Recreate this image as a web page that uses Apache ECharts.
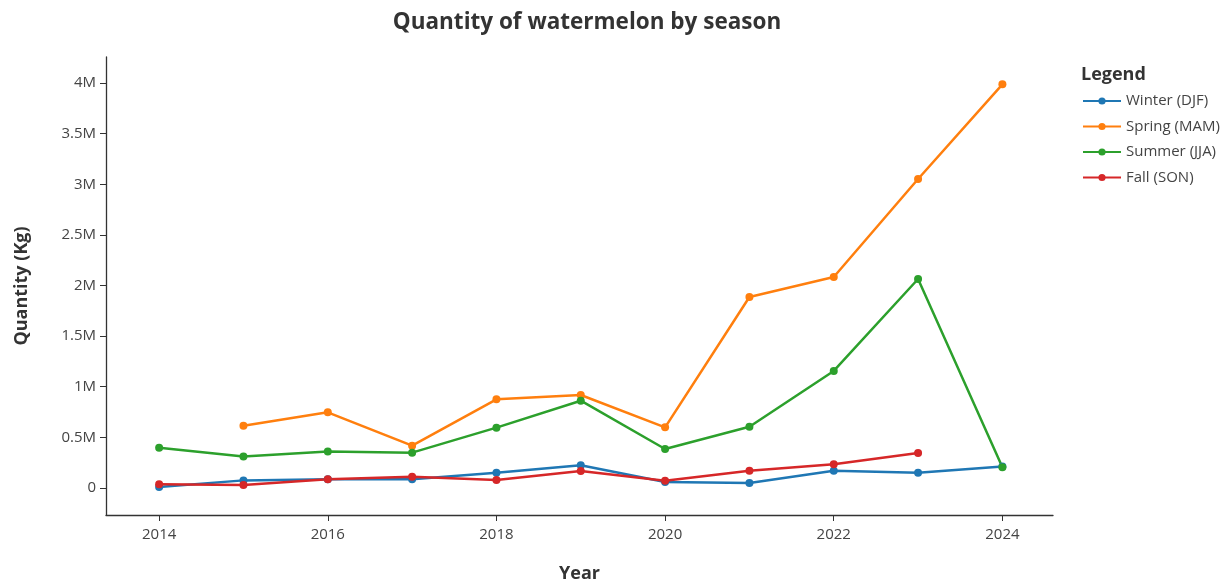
<!DOCTYPE html>
<html>
<head>
<meta charset="utf-8">
<title>Quantity of watermelon by season</title>
<script src="https://cdn.jsdelivr.net/npm/echarts@6/dist/echarts.min.js"></script>
<style>
  html, body { margin: 0; padding: 0; background: #fff; }
  #chart { width: 1227px; height: 581px; }
</style>
</head>
<body>
<div id="chart"></div>
<script>
// years on the x axis
const years = [2014, 2015, 2016, 2017, 2018, 2019, 2020, 2021, 2022, 2023, 2024];

// quantities in kg
const winter = [10000, 75000, 85000, 85000, 150000, 225000, 58000, 48000, 170000, 150000, 212000];
const spring = [null, 615000, 747000, 418000, 876000, 918000, 599000, 1886000, 2084000, 3052000, 3987000];
const summer = [398000, 310000, 360000, 349000, 596000, 862000, 385000, 605000, 1156000, 2064000, 204000];
const fall = [36000, 30000, 86000, 112000, 79000, 168000, 72000, 171000, 234000, 346000, null];

const xTicks = [2014, 2016, 2018, 2020, 2022, 2024];
const yTicks = [0, 500000, 1000000, 1500000, 2000000, 2500000, 3000000, 3500000, 4000000];

const seriesNames = ['Winter (DJF)', 'Spring (MAM)', 'Summer (JJA)', 'Fall (SON)'];
const seriesColors = ['#1f77b4', '#ff7f0e', '#2ca02c', '#d62728'];
const seriesValues = [winter, spring, summer, fall];

const fontFamily = '"Open Sans", "Noto Sans", sans-serif';

const chart = echarts.init(document.getElementById('chart'));

const formatQty = (v) => {
    if (v === 0) return '0';
    return (v / 1e6) + 'M';
};

const option = {
    animation: false,
    textStyle: { fontFamily: fontFamily },
    title: {
        text: 'Quantity of watermelon by season',
        left: 582,
        top: 6,
        textAlign: 'center',
        textStyle: { fontSize: 22.5, fontWeight: 'bold', color: '#333', fontFamily: fontFamily }
    },
    graphic: [{
        type: 'text',
        left: 1081,
        top: 66,
        style: { text: 'Legend', fontSize: 18, fontWeight: 'bold', fill: '#333', fontFamily: fontFamily }
    }],
    legend: {
        orient: 'vertical',
        left: 1077,
        top: 88,
        itemGap: 9.5,
        itemWidth: 38,
        itemHeight: 9,
        data: seriesNames,
        textStyle: { fontSize: 15, lineHeight: 16, color: '#444', fontFamily: fontFamily }
    },
    grid: {
        left: 106,
        right: 174,
        top: 57,
        bottom: 66,
        containLabel: false,
        outerBoundsMode: 'none'
    },
    xAxis: {
        type: 'value',
        min: 2013.37,
        max: 2024.6,
        name: 'Year',
        nameLocation: 'middle',
        nameGap: 50,
        nameTextStyle: { fontSize: 18, fontWeight: 'bold', color: '#333' },
        splitLine: { show: false },
        axisLine: { show: true, onZero: false, lineStyle: { color: '#333', width: 1.3 } },
        axisTick: { show: true, length: 6, customValues: xTicks, lineStyle: { color: '#333' } },
        axisLabel: { customValues: xTicks, fontSize: 15, color: '#444', margin: 12, formatter: (v) => String(v) }
    },
    yAxis: {
        type: 'value',
        min: -267000,
        max: 4257000,
        name: 'Quantity (Kg)',
        nameLocation: 'middle',
        nameGap: 75,
        nameRotate: 90,
        nameTextStyle: { fontSize: 18, fontWeight: 'bold', color: '#333' },
        splitLine: { show: false },
        axisLine: { show: true, onZero: false, lineStyle: { color: '#333', width: 1.3 } },
        axisTick: { show: true, length: 6, customValues: yTicks, lineStyle: { color: '#333' } },
        axisLabel: { customValues: yTicks, fontSize: 15, color: '#444', margin: 10, formatter: formatQty }
    },
    series: seriesNames.map((name, i) => ({
        name: name,
        type: 'line',
        data: years.map((y, j) => [y, seriesValues[i][j]]),
        connectNulls: false,
        symbol: 'circle',
        symbolSize: 8,
        showSymbol: true,
        lineStyle: { width: 2.5, color: seriesColors[i] },
        itemStyle: { color: seriesColors[i] }
    }))
};

chart.setOption(option);
</script>
</body>
</html>
